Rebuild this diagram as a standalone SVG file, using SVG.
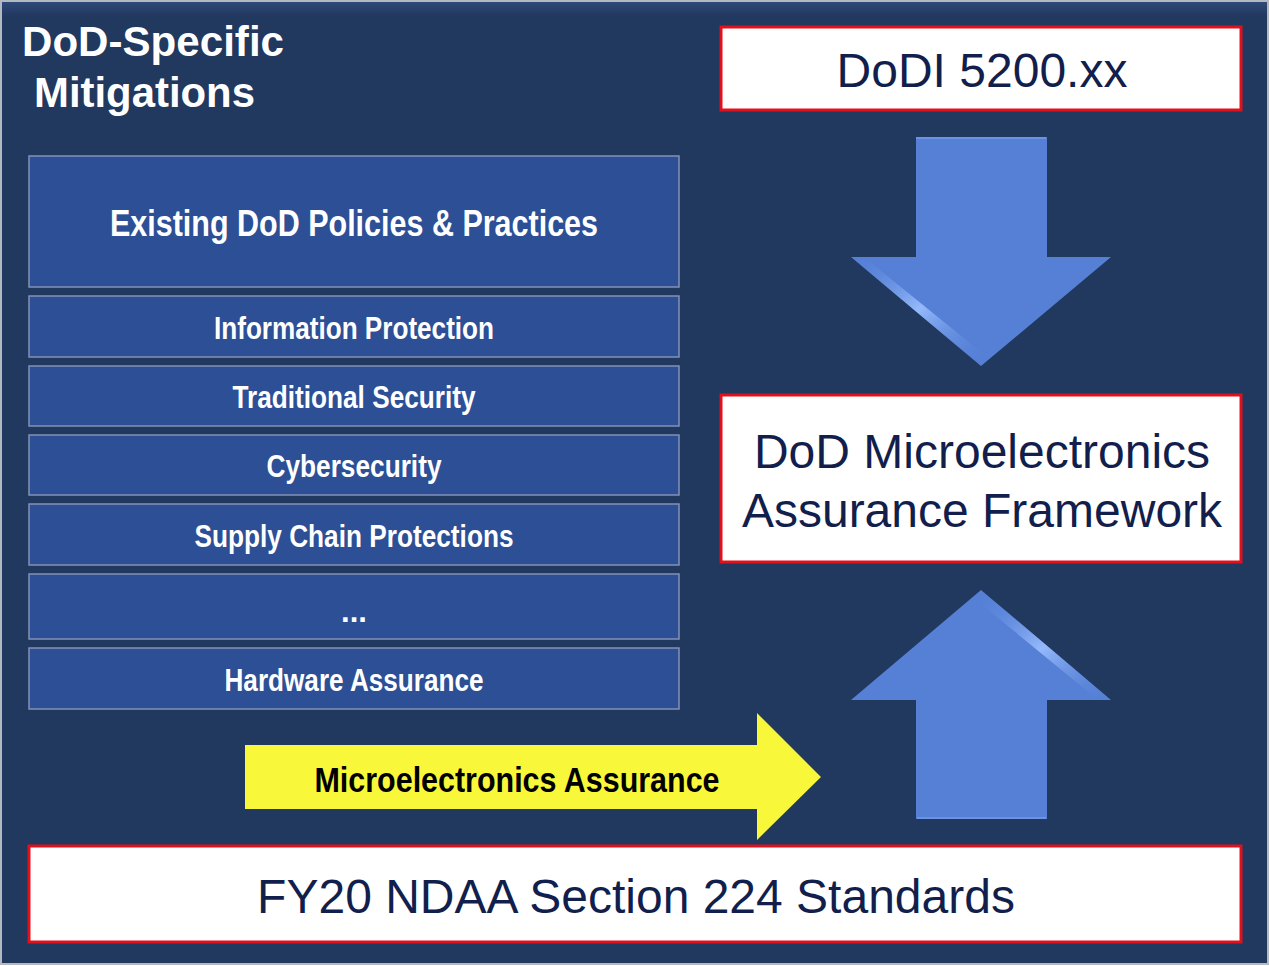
<svg xmlns="http://www.w3.org/2000/svg" width="1269" height="966" viewBox="0 0 1269 966">
<style>
.bg{fill:#21385f;stroke:#b4b8c0;stroke-width:2}
.box{fill:#2c4f96;stroke:#8391b6;stroke-width:1.5}
.rbox{fill:#ffffff;stroke:#e0101c;stroke-width:3}
.title{font-family:"Liberation Sans",Arial,sans-serif;font-weight:bold;font-size:42px;fill:#ffffff}
.lbl{font-family:"Liberation Sans Narrow","Liberation Sans",Arial,sans-serif;font-weight:bold;fill:#ffffff;text-anchor:middle}
.big{font-family:"Liberation Sans",Arial,sans-serif;font-size:48px;fill:#121f4d;text-anchor:middle}
.blue{fill:#5580d6}
</style>
<defs>
<linearGradient id="shine" x1="0" y1="0" x2="1" y2="1">
<stop offset="0" stop-color="#5580d6" stop-opacity="0"/>
<stop offset="0.5" stop-color="#9cc0ff" stop-opacity="0.9"/>
<stop offset="1" stop-color="#5580d6" stop-opacity="0"/>
</linearGradient>
<linearGradient id="topband" x1="0" y1="0" x2="0" y2="1">
<stop offset="0" stop-color="#2e4a78"/>
<stop offset="1" stop-color="#21385f"/>
</linearGradient>
</defs>
<rect class="bg" x="1" y="1" width="1267" height="963"/>
<rect x="2" y="2" width="1265" height="14" fill="url(#topband)"/>
<g id="title">
<text class="title" x="22" y="56" textLength="262" lengthAdjust="spacingAndGlyphs">DoD-Specific</text>
<text class="title" x="34" y="107" textLength="221" lengthAdjust="spacingAndGlyphs">Mitigations</text>
</g>
<g id="existing">
<rect class="box" x="29" y="156" width="650" height="131"/>
<text class="lbl" x="354" y="236" font-size="37" textLength="488" lengthAdjust="spacingAndGlyphs">Existing DoD Policies &amp; Practices</text>
</g>
<g id="info">
<rect class="box" x="29" y="296" width="650" height="61"/>
<text class="lbl" x="354" y="339" font-size="31" textLength="280" lengthAdjust="spacingAndGlyphs">Information Protection</text>
</g>
<g id="trad">
<rect class="box" x="29" y="366" width="650" height="60"/>
<text class="lbl" x="354" y="408" font-size="31" textLength="243" lengthAdjust="spacingAndGlyphs">Traditional Security</text>
</g>
<g id="cyber">
<rect class="box" x="29" y="435" width="650" height="60"/>
<text class="lbl" x="354" y="477" font-size="31" textLength="175" lengthAdjust="spacingAndGlyphs">Cybersecurity</text>
</g>
<g id="supply">
<rect class="box" x="29" y="504" width="650" height="61"/>
<text class="lbl" x="354" y="547" font-size="31" textLength="319" lengthAdjust="spacingAndGlyphs">Supply Chain Protections</text>
</g>
<g id="etc">
<rect class="box" x="29" y="574" width="650" height="65"/>
<text class="lbl" x="354" y="622" font-size="31">...</text>
</g>
<g id="hw">
<rect class="box" x="29" y="648" width="650" height="61"/>
<text class="lbl" x="354" y="691" font-size="31" textLength="259" lengthAdjust="spacingAndGlyphs">Hardware Assurance</text>
</g>
<g id="dodi">
<rect class="rbox" x="721" y="27" width="520" height="83"/>
<text class="big" x="982" y="87">DoDI 5200.xx</text>
</g>
<g id="framework">
<rect class="rbox" x="721" y="395" width="520" height="167"/>
<text class="big" x="982" y="468">DoD Microelectronics</text>
<text class="big" x="982" y="527">Assurance Framework</text>
</g>
<g id="ndaa">
<rect class="rbox" x="29" y="846" width="1212" height="96"/>
<text class="big" x="636" y="913">FY20 NDAA Section 224 Standards</text>
</g>
<g id="connectors">
<g id="down-arrow">
<polygon class="blue" points="916,137 1047,137 1047,257 1111,257 981,366 851,257 916,257"/>
<polygon points="851,257 870,262 981,352 981,366" fill="url(#shine)"/>
<path d="M916,138 L1046,138" stroke="#6b93e4" stroke-width="2"/>
</g>
<g id="up-arrow">
<polygon class="blue" points="981,590 1111,700 1047,700 1047,819 916,819 916,700 851,700"/>
<polygon points="981,590 1111,700 1092,695 981,604" fill="url(#shine)"/>
<path d="M917,818 L1046,818" stroke="#6b93e4" stroke-width="2"/>
</g>
<g id="yellow-arrow">
<polygon fill="#f9f73a" points="245,745 757,745 757,713 821,777 757,840 757,809 245,809"/>
<text x="517" y="792" font-family="&quot;Liberation Sans Narrow&quot;,&quot;Liberation Sans&quot;,Arial,sans-serif" font-weight="bold" font-size="35" fill="#000000" text-anchor="middle" textLength="405" lengthAdjust="spacingAndGlyphs">Microelectronics Assurance</text>
</g>
</g>
</svg>
